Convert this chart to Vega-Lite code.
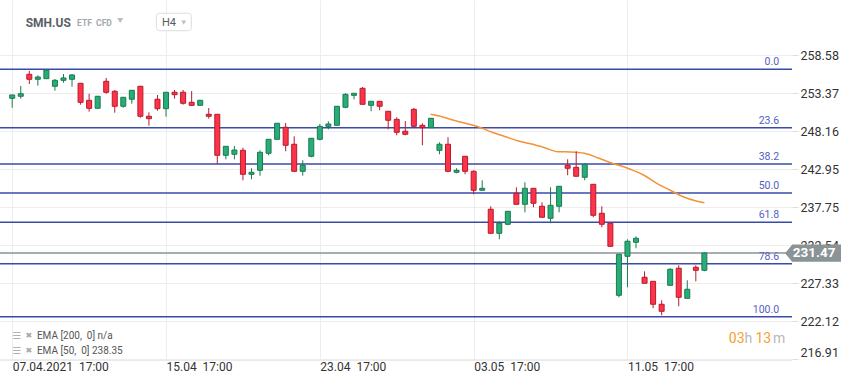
{
  "$schema": "https://vega.github.io/schema/vega-lite/v6.json",
  "autosize": {"type": "none"},
  "padding": {"left": 0, "top": 0, "right": 67, "bottom": 24},
  "width": 792,
  "height": 360,
  "background": "white",
  "config": {"view": {"stroke": null}, "font": "Roboto"},
  "datasets": {
    "candles": [
      {"i":0,"o":252.68,"h":253.14,"l":251.39,"c":253.14},
      {"i":1,"o":252.96,"h":254.37,"l":252.63,"c":253.31},
      {"i":2,"o":255.97,"h":256.43,"l":254.64,"c":255.29},
      {"i":3,"o":255.29,"h":255.84,"l":254.41,"c":255.60},
      {"i":4,"o":255.37,"h":256.60,"l":255.37,"c":256.56},
      {"i":5,"o":254.33,"h":255.33,"l":253.73,"c":255.15},
      {"i":6,"o":255.15,"h":256.01,"l":254.82,"c":255.47},
      {"i":7,"o":255.29,"h":256.01,"l":254.27,"c":255.88},
      {"i":8,"o":254.74,"h":254.74,"l":251.81,"c":252.13},
      {"i":9,"o":252.41,"h":253.31,"l":250.85,"c":251.31},
      {"i":10,"o":251.31,"h":253.00,"l":251.31,"c":252.96},
      {"i":11,"o":255.01,"h":255.47,"l":253.31,"c":253.51},
      {"i":12,"o":253.64,"h":253.82,"l":250.71,"c":251.59},
      {"i":13,"o":251.59,"h":252.82,"l":251.39,"c":252.82},
      {"i":14,"o":252.55,"h":253.78,"l":251.94,"c":253.78},
      {"i":15,"o":254.33,"h":254.33,"l":250.02,"c":250.22},
      {"i":16,"o":250.22,"h":250.76,"l":248.93,"c":249.89},
      {"i":17,"o":252.55,"h":253.14,"l":250.98,"c":251.26},
      {"i":18,"o":251.26,"h":253.51,"l":250.16,"c":253.51},
      {"i":19,"o":253.51,"h":253.82,"l":252.63,"c":253.18},
      {"i":20,"o":253.51,"h":253.82,"l":251.81,"c":252.00},
      {"i":21,"o":252.13,"h":253.68,"l":251.72,"c":251.72},
      {"i":22,"o":251.72,"h":252.41,"l":251.72,"c":252.41},
      {"i":23,"o":250.49,"h":251.35,"l":249.89,"c":250.22},
      {"i":24,"o":250.49,"h":250.49,"l":243.68,"c":244.87},
      {"i":25,"o":244.87,"h":246.10,"l":244.32,"c":246.10},
      {"i":26,"o":245.01,"h":246.14,"l":244.32,"c":245.59},
      {"i":27,"o":245.55,"h":245.91,"l":241.44,"c":242.26},
      {"i":28,"o":242.26,"h":243.09,"l":241.58,"c":242.54},
      {"i":29,"o":242.81,"h":245.55,"l":242.07,"c":245.28},
      {"i":30,"o":245.14,"h":247.06,"l":244.87,"c":247.06},
      {"i":31,"o":247.06,"h":249.26,"l":247.06,"c":249.26},
      {"i":32,"o":248.71,"h":249.30,"l":245.42,"c":246.24},
      {"i":33,"o":246.38,"h":247.47,"l":242.67,"c":242.67},
      {"i":34,"o":242.67,"h":244.18,"l":242.07,"c":243.50},
      {"i":35,"o":244.73,"h":247.20,"l":244.59,"c":247.20},
      {"i":36,"o":247.06,"h":249.16,"l":246.92,"c":248.84},
      {"i":37,"o":248.84,"h":249.53,"l":248.43,"c":249.16},
      {"i":38,"o":248.98,"h":251.59,"l":248.98,"c":251.59},
      {"i":39,"o":251.45,"h":253.37,"l":251.31,"c":253.23},
      {"i":40,"o":253.09,"h":253.37,"l":252.55,"c":253.37},
      {"i":41,"o":254.05,"h":254.23,"l":251.86,"c":251.86},
      {"i":42,"o":251.72,"h":252.27,"l":250.90,"c":252.27},
      {"i":43,"o":252.27,"h":252.27,"l":251.04,"c":251.59},
      {"i":44,"o":250.90,"h":250.90,"l":248.43,"c":249.67},
      {"i":45,"o":249.80,"h":250.08,"l":247.61,"c":248.02},
      {"i":46,"o":248.16,"h":249.57,"l":247.61,"c":247.75},
      {"i":47,"o":251.17,"h":251.35,"l":248.71,"c":248.84},
      {"i":48,"o":248.98,"h":249.26,"l":246.24,"c":248.65},
      {"i":49,"o":248.65,"h":249.94,"l":248.65,"c":249.94},
      {"i":50,"o":245.55,"h":246.65,"l":245.01,"c":246.38},
      {"i":51,"o":246.38,"h":247.34,"l":242.54,"c":242.67},
      {"i":52,"o":242.54,"h":243.09,"l":242.40,"c":242.81},
      {"i":53,"o":244.73,"h":244.73,"l":242.26,"c":242.67},
      {"i":54,"o":242.67,"h":242.81,"l":239.52,"c":240.07},
      {"i":55,"o":240.07,"h":241.44,"l":240.07,"c":240.34},
      {"i":56,"o":237.47,"h":237.88,"l":234.17,"c":234.17},
      {"i":57,"o":234.17,"h":235.82,"l":233.35,"c":235.55},
      {"i":58,"o":235.41,"h":237.19,"l":235.27,"c":237.19},
      {"i":59,"o":239.66,"h":240.48,"l":238.15,"c":238.15},
      {"i":60,"o":238.15,"h":241.17,"l":237.05,"c":240.34},
      {"i":61,"o":240.34,"h":240.34,"l":237.74,"c":238.29},
      {"i":62,"o":237.88,"h":238.43,"l":236.37,"c":236.37},
      {"i":63,"o":236.23,"h":240.48,"l":235.55,"c":238.01},
      {"i":64,"o":237.88,"h":240.62,"l":237.05,"c":240.62},
      {"i":65,"o":243.50,"h":244.32,"l":242.13,"c":243.09},
      {"i":66,"o":243.22,"h":245.42,"l":241.99,"c":241.99},
      {"i":67,"o":241.85,"h":243.77,"l":241.44,"c":243.63},
      {"i":68,"o":240.89,"h":240.89,"l":236.37,"c":236.64},
      {"i":69,"o":236.92,"h":237.88,"l":235.00,"c":235.41},
      {"i":70,"o":235.55,"h":235.55,"l":232.30,"c":232.39},
      {"i":71,"o":225.67,"h":231.30,"l":225.40,"c":231.30},
      {"i":72,"o":231.02,"h":233.35,"l":226.77,"c":233.08},
      {"i":73,"o":232.94,"h":233.76,"l":232.12,"c":233.49},
      {"i":74,"o":228.14,"h":228.96,"l":227.32,"c":227.32},
      {"i":75,"o":227.59,"h":227.59,"l":223.89,"c":224.44},
      {"i":76,"o":224.44,"h":224.99,"l":222.93,"c":223.48},
      {"i":77,"o":227.04,"h":229.38,"l":227.04,"c":229.24},
      {"i":78,"o":229.38,"h":229.79,"l":224.17,"c":225.40},
      {"i":79,"o":225.26,"h":227.73,"l":225.26,"c":226.50},
      {"i":80,"o":229.51,"h":229.79,"l":227.59,"c":229.10},
      {"i":81,"o":229.10,"h":231.57,"l":228.97,"c":231.47}
    ],
    "ema": [
      {"i":48.96,"v":250.49},{"i":50.0,"v":250.26},{"i":51.16,"v":249.85},{"i":52.31,"v":249.48},
      {"i":53.85,"v":249.02},{"i":55.0,"v":248.57},{"i":56.16,"v":248.02},{"i":57.71,"v":247.42},
      {"i":59.24,"v":246.83},{"i":60.78,"v":246.42},{"i":62.33,"v":245.91},{"i":63.87,"v":245.36},
      {"i":65.4,"v":245.32},{"i":66.95,"v":245.14},{"i":68.49,"v":244.54},{"i":70.03,"v":243.85},
      {"i":72.34,"v":242.95},{"i":73.88,"v":242.17},{"i":75.42,"v":241.03},{"i":76.96,"v":240.11},
      {"i":78.51,"v":239.19},{"i":80.04,"v":238.6},{"i":81.0,"v":238.35}
    ],
    "fib": [
      {"lvl":"0.0","p":256.66},{"lvl":"23.6","p":248.65},{"lvl":"38.2","p":243.69},
      {"lvl":"50.0","p":239.69},{"lvl":"61.8","p":235.68},{"lvl":"78.6","p":229.98},
      {"lvl":"100.0","p":222.72}
    ]
  },
  "encoding": {
    "x": {"type": "quantitative", "scale": {"domain": [-0.8435, 90.67], "zero": false, "nice": false}},
    "y": {"type": "quantitative", "scale": {"domain": [216.8, 266.16], "zero": false, "nice": false}}
  },
  "layer": [
    {
      "data": {"name": "candles"},
      "mark": {"type": "rule", "opacity": 0},
      "encoding": {
        "x": {"field": "i", "type": "quantitative",
          "axis": {"orient": "bottom", "values": [0, 18, 36, 54, 72], "title": null, "grid": true, "gridColor": "#ededed",
            "domain": true, "domainColor": "#eaeaea", "ticks": false, "tickSize": 0, "labelAlign": "left", "labelBaseline": "middle",
            "labelPadding": 6, "labelFontSize": 12, "labelColor": "#333333", "labelFont": "Roboto", "labelBound": false, "labelFlush": false,
            "labelExpr": "datum.value == 0 ? '07.04.2021\u00a0\u00a017:00' : datum.value == 18 ? '15.04\u00a0\u00a017:00' : datum.value == 36 ? '23.04\u00a0\u00a017:00' : datum.value == 54 ? '03.05\u00a0\u00a017:00' : '11.05\u00a0\u00a017:00'"}},
        "y": {"field": "l", "type": "quantitative",
          "axis": {"orient": "right", "values": [216.91, 222.12, 227.33, 232.54, 237.75, 242.95, 248.16, 253.37, 258.58], "format": ".2f",
            "title": null, "grid": true, "gridColor": "#ededed", "domain": false, "ticks": true, "tickColor": "#dddddd", "tickSize": 6,
            "labelPadding": 2, "labelFlush": 2, "labelFontSize": 12.5, "labelColor": "#333333", "labelFont": "Roboto"}}
      }
    },
    {
      "data": {"name": "fib"},
      "mark": {"type": "rule", "color": "#3a4aa8", "strokeWidth": 1.5},
      "encoding": {"y": {"field": "p", "type": "quantitative"}}
    },
    {
      "data": {"values": [{"p": 231.47}]},
      "mark": {"type": "rule", "color": "#8a9395", "strokeWidth": 1.5},
      "encoding": {"y": {"field": "p", "type": "quantitative"}}
    },
    {
      "data": {"name": "ema"},
      "mark": {"type": "line", "color": "#f39237", "strokeWidth": 1.5, "interpolate": "monotone"},
      "encoding": {"x": {"field": "i", "type": "quantitative"}, "y": {"field": "v", "type": "quantitative"}}
    },
    {
      "data": {"name": "candles"},
      "mark": {"type": "rule", "strokeWidth": 1},
      "encoding": {
        "x": {"field": "i", "type": "quantitative"},
        "y": {"field": "l", "type": "quantitative"},
        "y2": {"field": "h"},
        "stroke": {"condition": {"test": "datum.c >= datum.o", "value": "#1c7a4f"}, "value": "#b81a2c"}
      }
    },
    {
      "data": {"name": "candles"},
      "mark": {"type": "bar", "width": 5, "strokeWidth": 1},
      "encoding": {
        "x": {"field": "i", "type": "quantitative"},
        "y": {"field": "o", "type": "quantitative"},
        "y2": {"field": "c"},
        "fill": {"condition": {"test": "datum.c >= datum.o", "value": "#27ad77"}, "value": "#fc3449"},
        "stroke": {"condition": {"test": "datum.c >= datum.o", "value": "#1c7a4f"}, "value": "#b81a2c"}
      }
    },
    {
      "data": {"name": "fib"},
      "mark": {"type": "text", "align": "right", "baseline": "bottom", "dy": -2, "fontSize": 10.5, "color": "#5361c2", "font": "Roboto"},
      "encoding": {"x": {"datum": 89.75, "type": "quantitative"}, "y": {"field": "p", "type": "quantitative"}, "text": {"field": "lvl"}}
    },
    {
      "data": {"values": [{"t": "SMH.US"}]},
      "mark": {"type": "text", "align": "left", "baseline": "middle", "fontSize": 12, "fontWeight": "bold", "color": "#5a5f66", "font": "Roboto"},
      "encoding": {"x": {"datum": 1.58, "type": "quantitative"}, "y": {"datum": 263.0, "type": "quantitative"}, "text": {"field": "t"}}
    },
    {
      "data": {"values": [{"t": "ETF\u00a0\u00a0CFD"}]},
      "mark": {"type": "text", "align": "left", "baseline": "middle", "fontSize": 8.5, "fontWeight": "bold", "color": "#a3a7ab", "font": "Roboto"},
      "encoding": {"x": {"datum": 7.59, "type": "quantitative"}, "y": {"datum": 263.0, "type": "quantitative"}, "text": {"field": "t"}}
    },
    {
      "data": {"values": [{"k": 1}]},
      "mark": {"type": "point", "shape": "triangle-down", "size": 35, "filled": true, "color": "#b8bcc0", "opacity": 1},
      "encoding": {"x": {"datum": 12.64, "type": "quantitative"}, "y": {"datum": 263.35, "type": "quantitative"}}
    },
    {
      "data": {"values": [{"k": 1}]},
      "mark": {"type": "rect", "fill": "white", "stroke": "#dcdcdc", "strokeWidth": 1, "cornerRadius": 3},
      "encoding": {"x": {"datum": 16.87, "type": "quantitative"}, "x2": {"datum": 20.96}, "y": {"datum": 264.34, "type": "quantitative"}, "y2": {"datum": 261.95}}
    },
    {
      "data": {"values": [{"t": "H4"}]},
      "mark": {"type": "text", "align": "left", "baseline": "middle", "fontSize": 11, "color": "#555a60", "font": "Roboto"},
      "encoding": {"x": {"datum": 17.53, "type": "quantitative"}, "y": {"datum": 263.05, "type": "quantitative"}, "text": {"field": "t"}}
    },
    {
      "data": {"values": [{"k": 1}]},
      "mark": {"type": "point", "shape": "triangle-down", "size": 25, "filled": true, "color": "#bcc0c4", "opacity": 1},
      "encoding": {"x": {"datum": 20.07, "type": "quantitative"}, "y": {"datum": 263.05, "type": "quantitative"}}
    },
    {
      "data": {"values": [{"t": "\u2630"}]},
      "mark": {"type": "text", "align": "left", "baseline": "middle", "fontSize": 10, "color": "#b0b0b0", "font": "DejaVu Sans"},
      "encoding": {"x": {"datum": 0, "type": "quantitative"}, "y": {"datum": 220.09, "type": "quantitative"}, "text": {"field": "t"}}
    },
    {
      "data": {"values": [{"t": "\u2630"}]},
      "mark": {"type": "text", "align": "left", "baseline": "middle", "fontSize": 10, "color": "#b0b0b0", "font": "DejaVu Sans"},
      "encoding": {"x": {"datum": 0, "type": "quantitative"}, "y": {"datum": 217.97, "type": "quantitative"}, "text": {"field": "t"}}
    },
    {
      "data": {"values": [{"t": "\u2716"}]},
      "mark": {"type": "text", "align": "left", "baseline": "middle", "fontSize": 8, "color": "#a8a8a8", "font": "DejaVu Sans"},
      "encoding": {"x": {"datum": 1.55, "type": "quantitative"}, "y": {"datum": 220.09, "type": "quantitative"}, "text": {"field": "t"}}
    },
    {
      "data": {"values": [{"t": "\u2716"}]},
      "mark": {"type": "text", "align": "left", "baseline": "middle", "fontSize": 8, "color": "#a8a8a8", "font": "DejaVu Sans"},
      "encoding": {"x": {"datum": 1.55, "type": "quantitative"}, "y": {"datum": 217.97, "type": "quantitative"}, "text": {"field": "t"}}
    },
    {
      "data": {"values": [{"t": "EMA [200,\u00a0\u00a00] n/a"}]},
      "mark": {"type": "text", "align": "left", "baseline": "middle", "fontSize": 10, "color": "#555555", "font": "Roboto"},
      "encoding": {"x": {"datum": 2.89, "type": "quantitative"}, "y": {"datum": 220.09, "type": "quantitative"}, "text": {"field": "t"}}
    },
    {
      "data": {"values": [{"t": "EMA [50,\u00a0\u00a00] 238.35"}]},
      "mark": {"type": "text", "align": "left", "baseline": "middle", "fontSize": 10, "color": "#555555", "font": "Roboto"},
      "encoding": {"x": {"datum": 2.89, "type": "quantitative"}, "y": {"datum": 217.97, "type": "quantitative"}, "text": {"field": "t"}}
    },
    {
      "data": {"values": [{"t": "03"}]},
      "mark": {"type": "text", "align": "left", "baseline": "middle", "fontSize": 14, "color": "#f7a12c", "font": "Roboto"},
      "encoding": {"x": {"datum": 83.86, "type": "quantitative"}, "y": {"datum": 219.72, "type": "quantitative"}, "text": {"field": "t"}}
    },
    {
      "data": {"values": [{"t": "h"}]},
      "mark": {"type": "text", "align": "left", "baseline": "middle", "fontSize": 14, "color": "#b8b8b8", "font": "Roboto"},
      "encoding": {"x": {"datum": 85.71, "type": "quantitative"}, "y": {"datum": 219.72, "type": "quantitative"}, "text": {"field": "t"}}
    },
    {
      "data": {"values": [{"t": "13"}]},
      "mark": {"type": "text", "align": "left", "baseline": "middle", "fontSize": 14, "color": "#f7a12c", "font": "Roboto"},
      "encoding": {"x": {"datum": 86.98, "type": "quantitative"}, "y": {"datum": 219.72, "type": "quantitative"}, "text": {"field": "t"}}
    },
    {
      "data": {"values": [{"t": "m"}]},
      "mark": {"type": "text", "align": "left", "baseline": "middle", "fontSize": 14, "color": "#b8b8b8", "font": "Roboto"},
      "encoding": {"x": {"datum": 89.02, "type": "quantitative"}, "y": {"datum": 219.72, "type": "quantitative"}, "text": {"field": "t"}}
    },
    {
      "data": {"values": [{"k": 1}]},
      "mark": {"type": "rect", "fill": "#8a9395"},
      "encoding": {"x": {"datum": 91.25, "type": "quantitative"}, "x2": {"datum": 96.99}, "y": {"datum": 232.62, "type": "quantitative"}, "y2": {"datum": 230.27}}
    },
    {
      "data": {"values": [{"k": 1}]},
      "mark": {"type": "point", "shape": "M -0.41 0 L 0.42 -1 L 0.42 1 Z", "size": 289, "filled": true, "color": "#8a9395", "opacity": 1, "strokeWidth": 0},
      "encoding": {"x": {"datum": 90.85, "type": "quantitative"}, "y": {"datum": 231.45, "type": "quantitative"}}
    },
    {
      "data": {"values": [{"t": "231.47"}]},
      "mark": {"type": "text", "align": "center", "baseline": "middle", "fontSize": 13.5, "fontWeight": "bold", "color": "white", "font": "Roboto"},
      "encoding": {"x": {"datum": 93.85, "type": "quantitative"}, "y": {"datum": 231.45, "type": "quantitative"}, "text": {"field": "t"}}
    }
  ]
}
